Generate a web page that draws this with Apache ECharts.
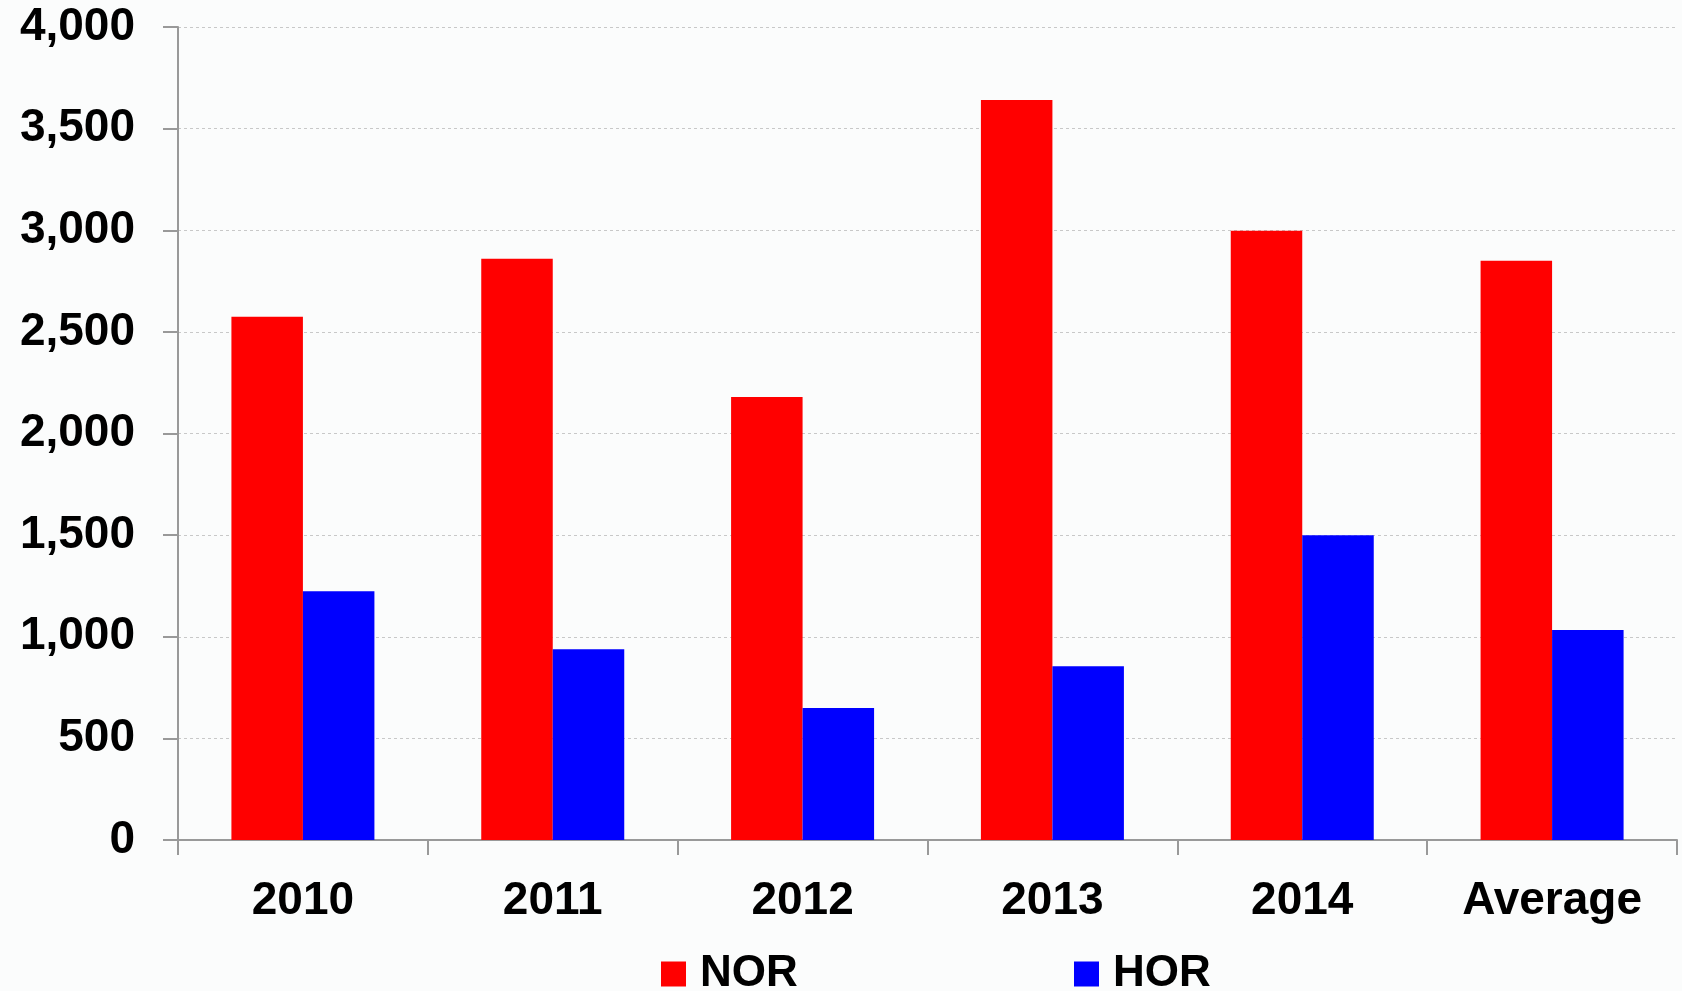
<!DOCTYPE html>
<html>
<head>
<meta charset="utf-8">
<script src="https://cdn.jsdelivr.net/npm/echarts@6/dist/echarts.min.js"></script>
<style>
  html, body { margin: 0; padding: 0; background: #fbfcfc; }
  #chart { width: 1682px; height: 991px; }
</style>
</head>
<body>
<div id="chart"></div>
<script>
const categories = ['2010', '2011', '2012', '2013', '2014', 'Average'];
const norValues = [2575, 2860, 2179, 3641, 2997, 2850];
const horValues = [1224, 939, 649, 855, 1499, 1033];
const yTicks = [0, 500, 1000, 1500, 2000, 2500, 3000, 3500, 4000];

const chart = echarts.init(document.getElementById('chart'));

const fontFamily = 'Liberation Sans';

const legendText = {
  fontFamily: fontFamily,
  fontSize: 44,
  fontWeight: 'bold',
  color: '#000',
  padding: [0, 0, 0, 9]
};

const option = {
  backgroundColor: '#fbfcfc',
  animation: false,
  grid: {
    left: 178,
    right: 5,
    top: 27,
    bottom: 151
  },
  // two legends so each item sits where it does in the original
  legend: [
    {
      data: ['NOR'],
      left: 656,
      top: 947,
      itemWidth: 25,
      itemHeight: 25,
      icon: 'rect',
      textStyle: legendText
    },
    {
      data: ['HOR'],
      left: 1069,
      top: 947,
      itemWidth: 25,
      itemHeight: 25,
      icon: 'rect',
      textStyle: legendText
    }
  ],
  xAxis: {
    type: 'category',
    data: categories,
    axisLine: { lineStyle: { color: '#999', width: 2 } },
    axisTick: { show: true, length: 15, lineStyle: { color: '#999', width: 2 } },
    axisLabel: {
      margin: 38,
      fontFamily: fontFamily,
      fontSize: 46,
      fontWeight: 'bold',
      color: '#000'
    }
  },
  yAxis: {
    type: 'value',
    min: yTicks[0],
    max: yTicks[yTicks.length - 1],
    interval: 500,
    axisLine: { show: true, lineStyle: { color: '#999', width: 2 } },
    axisTick: { show: true, length: 15, lineStyle: { color: '#999', width: 2 } },
    splitLine: { show: true, lineStyle: { color: '#c8c8c8', type: [3, 3], width: 1 } },
    axisLabel: {
      margin: 43,
      fontFamily: fontFamily,
      fontSize: 46,
      fontWeight: 'bold',
      color: '#000',
      formatter: (v) => v.toLocaleString('en-US')
    }
  },
  series: [
    {
      name: 'NOR',
      type: 'bar',
      data: norValues,
      barWidth: 71.5,
      barGap: '0%',
      itemStyle: { color: '#ff0000' }
    },
    {
      name: 'HOR',
      type: 'bar',
      data: horValues,
      barWidth: 71.5,
      barGap: '0%',
      itemStyle: { color: '#0000ff' }
    }
  ]
};

chart.setOption(option);
</script>
</body>
</html>
